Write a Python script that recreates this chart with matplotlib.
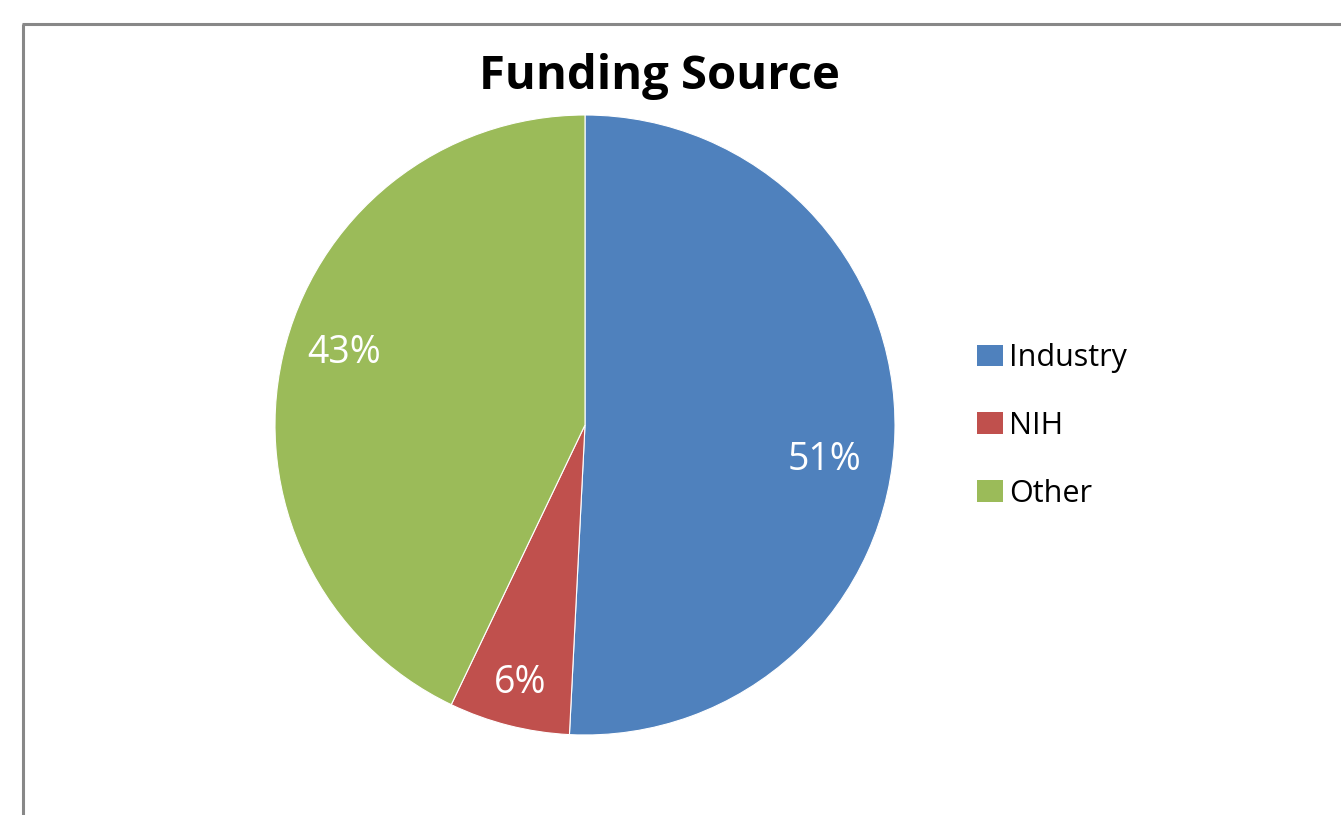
import matplotlib
matplotlib.use("Agg")
import matplotlib.pyplot as plt
from matplotlib.patches import Patch
from matplotlib.lines import Line2D

categories = ["Industry", "NIH", "Other"]
values = [50.8, 6.3, 42.9]
pct_labels = ["51%", "6%", "43%"]
colors = ["#4F81BD", "#C0504D", "#9BBB59"]
title = "Funding Source"

W, H = 1341, 815
plt.rcParams['font.family'] = ['Open Sans', 'DejaVu Sans']
fig = plt.figure(figsize=(W / 100, H / 100), dpi=100)

# frame lines (top and left border of chart area)
fig.add_artist(Line2D([23 / W, 23 / W], [0, 1 - 24 / H], transform=fig.transFigure,
                      color="#888888", lw=2.2, solid_capstyle="butt"))
fig.add_artist(Line2D([22 / W, 1], [1 - 24 / H, 1 - 24 / H], transform=fig.transFigure,
                      color="#888888", lw=2.2, solid_capstyle="butt"))

ax = fig.add_axes([275 / W, 80 / H, 620 / W, 620 / H])
wedges, texts = ax.pie(values, colors=colors, startangle=90, counterclock=False,
                       radius=1.0, wedgeprops=dict(edgecolor="white", linewidth=0.8))
ax.set_xlim(-1, 1)
ax.set_ylim(-1, 1)
ax.set_aspect("equal")
ax.axis("off")

label_pos = [(0.771, -0.113), (-0.210, -0.832), (-0.777, 0.232)]
for (x, y), lab in zip(label_pos, pct_labels):
    ax.text(x, y, lab, ha="center", va="center", color="white", fontsize=27)

fig.text(659 / W, 1 - 76 / H, title, ha="center", va="center",
         fontsize=34, fontweight="bold", color="black")

handles = [Patch(facecolor=c, edgecolor="none") for c in colors]
fig.legend(handles, categories, loc="center left", bbox_to_anchor=(977 / W, 1 - 426 / H),
           frameon=False, fontsize=22, handlelength=0.85, handleheight=0.72,
           handletextpad=0.2, labelspacing=1.24, borderpad=0, borderaxespad=0)

fig.savefig("out.png", dpi=100, facecolor="white")
